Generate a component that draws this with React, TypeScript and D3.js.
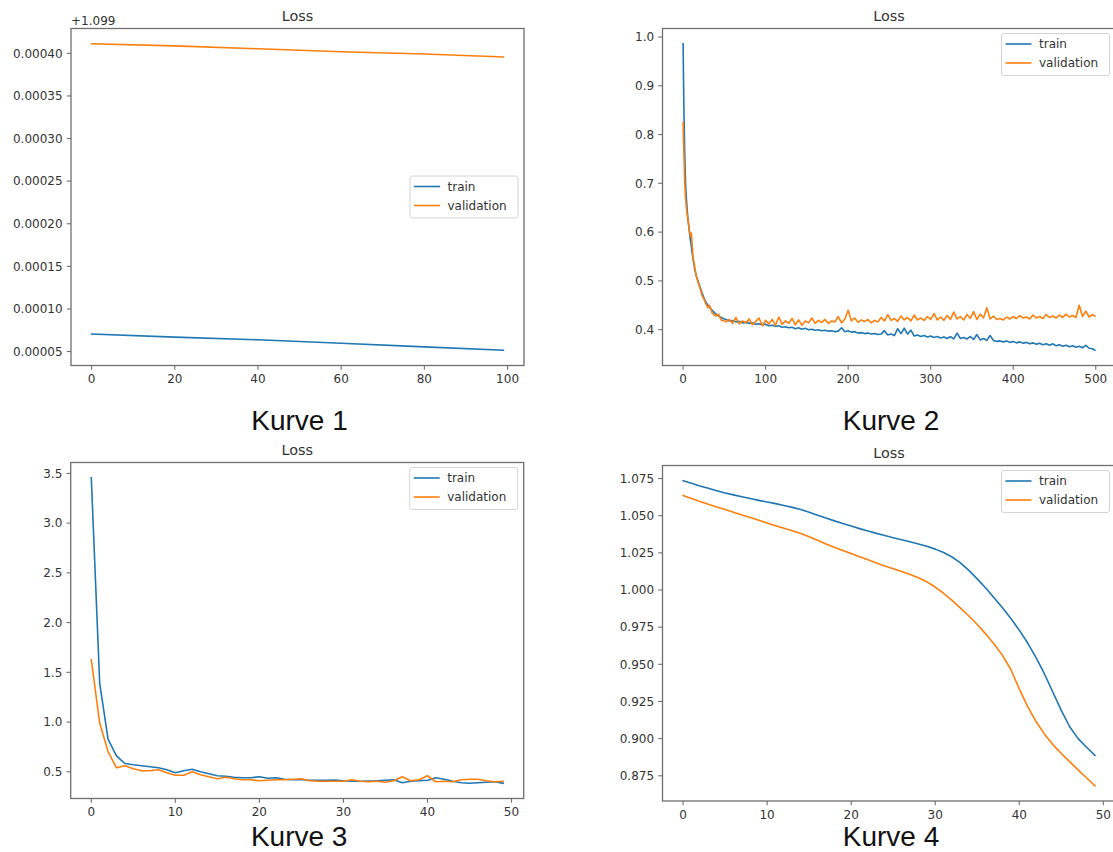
import React from 'react';
import * as d3 from 'd3';

const TRAIN_COLOR = '#1f77b4';
const VAL_COLOR = '#ff7f0e';
const SERIES_NAMES = ['train', 'validation'];
const TITLE = 'Loss';

// ---- Kurve 1 (values are relative to the +1.099 axis offset) ----
const k1Offset = '+1.099';
const k1Epochs = [0, 20, 40, 60, 80, 99];
const k1Train = [0.0000705, 0.0000669, 0.0000638, 0.0000598, 0.0000555, 0.0000516];
const k1Val = [0.0004112, 0.0004088, 0.0004054, 0.0004019, 0.0003992, 0.0003958];
const k1XTicks = [0, 20, 40, 60, 80, 100];
const k1YTicks = [0.00005, 0.0001, 0.00015, 0.0002, 0.00025, 0.0003, 0.00035, 0.0004];

// ---- Kurve 2 (500 epochs) ----
const k2EarlyEpochs = [0, 1, 2, 3, 4, 5, 6, 8, 9, 10, 11, 12, 14, 16, 18, 20, 23, 26, 28, 30, 32, 35, 38, 40, 43, 46, 50];
const k2EarlyTrain = [0.986, 0.85, 0.76, 0.70, 0.67, 0.645, 0.625, 0.595, 0.582, 0.57, 0.557, 0.545, 0.525, 0.51, 0.5, 0.49, 0.475, 0.462, 0.456, 0.45, 0.446, 0.44, 0.435, 0.432, 0.428, 0.425, 0.422];
const k2EarlyVal = [0.825, 0.76, 0.70, 0.67, 0.65, 0.635, 0.625, 0.6, 0.592, 0.598, 0.575, 0.55, 0.53, 0.51, 0.498, 0.488, 0.47, 0.46, 0.452, 0.445, 0.45, 0.435, 0.43, 0.428, 0.432, 0.42, 0.418];
// later epochs, logged every 4th epoch from 52 to 496, then the last epoch 499
const k2LateStart = 52;
const k2LateStep = 4;
const k2LastEpoch = 499;
const k2LateTrain = [
  0.421, 0.418, 0.419, 0.416, 0.417, 0.414, 0.415, 0.413,
  0.414, 0.411, 0.412, 0.410, 0.411, 0.408, 0.409, 0.407,
  0.408, 0.405, 0.406, 0.404, 0.405, 0.402, 0.404, 0.401,
  0.403, 0.400, 0.401, 0.399, 0.400, 0.398, 0.399, 0.397,
  0.398, 0.396, 0.397, 0.404, 0.396, 0.398, 0.395, 0.396,
  0.393, 0.394, 0.392, 0.393, 0.391, 0.392, 0.390, 0.391,
  0.398, 0.389, 0.391, 0.388, 0.402, 0.392, 0.403, 0.391,
  0.399, 0.387, 0.389, 0.386, 0.388, 0.385, 0.387, 0.384,
  0.386, 0.383, 0.385, 0.382, 0.386, 0.381, 0.393, 0.382,
  0.384, 0.381, 0.386, 0.380, 0.390, 0.379, 0.382, 0.378,
  0.388, 0.378, 0.376, 0.377, 0.375, 0.377, 0.374, 0.376,
  0.373, 0.375, 0.372, 0.374, 0.371, 0.373, 0.370, 0.372,
  0.369, 0.371, 0.368, 0.371, 0.367, 0.369, 0.366, 0.368,
  0.365, 0.367, 0.364, 0.366, 0.363, 0.368, 0.362, 0.361,
  0.358,
];
const k2LateVal = [
  0.416, 0.421, 0.413, 0.425, 0.412, 0.418, 0.414, 0.422,
  0.410, 0.417, 0.424, 0.408, 0.419, 0.412, 0.421, 0.409,
  0.426, 0.411, 0.418, 0.413, 0.423, 0.410, 0.420, 0.409,
  0.418, 0.414, 0.424, 0.413, 0.419, 0.415, 0.421, 0.413,
  0.418, 0.416, 0.427, 0.414, 0.422, 0.440, 0.418, 0.424,
  0.415, 0.420, 0.417, 0.421, 0.414, 0.419, 0.416, 0.425,
  0.418, 0.431, 0.419, 0.423, 0.417, 0.428, 0.420, 0.425,
  0.418, 0.430, 0.420, 0.424, 0.419, 0.427, 0.421, 0.433,
  0.420, 0.426, 0.419, 0.429, 0.421, 0.436, 0.422, 0.427,
  0.420, 0.431, 0.423, 0.437, 0.421, 0.432, 0.424, 0.445,
  0.422, 0.428, 0.421, 0.423, 0.420, 0.426, 0.422, 0.427,
  0.423, 0.429, 0.424, 0.426, 0.422, 0.430, 0.424, 0.427,
  0.423, 0.431, 0.425, 0.428, 0.424, 0.430, 0.425, 0.432,
  0.426, 0.429, 0.425, 0.450, 0.427, 0.438, 0.426, 0.431,
  0.428,
];
const k2XTicks = [0, 100, 200, 300, 400, 500];
const k2YTicks = [0.4, 0.5, 0.6, 0.7, 0.8, 0.9, 1.0];

// ---- Kurve 3 (50 epochs) ----
const k3Train = [
  3.456, 1.39, 0.826, 0.66, 0.583, 0.57, 0.56, 0.55, 0.54, 0.52,
  0.49, 0.51, 0.525, 0.5, 0.48, 0.46, 0.455, 0.445, 0.44, 0.44,
  0.45, 0.435, 0.44, 0.425, 0.42, 0.42, 0.415, 0.415, 0.415, 0.418,
  0.41, 0.405, 0.405, 0.408, 0.41, 0.415, 0.42, 0.39, 0.405, 0.41,
  0.415, 0.44, 0.425, 0.405, 0.39, 0.385, 0.39, 0.395, 0.4, 0.385,
];
const k3Val = [
  1.626, 0.99, 0.7, 0.54, 0.56, 0.53, 0.51, 0.51, 0.52, 0.49,
  0.465, 0.465, 0.5, 0.47, 0.45, 0.43, 0.445, 0.43, 0.42, 0.42,
  0.41, 0.415, 0.42, 0.42, 0.425, 0.43, 0.41, 0.405, 0.405, 0.405,
  0.405, 0.42, 0.405, 0.4, 0.405, 0.395, 0.41, 0.45, 0.41, 0.42,
  0.46, 0.4, 0.405, 0.4, 0.42, 0.425, 0.425, 0.41, 0.4, 0.405,
];
const k3XTicks = [0, 10, 20, 30, 40, 50];
const k3YTicks = [0.5, 1.0, 1.5, 2.0, 2.5, 3.0, 3.5];

// ---- Kurve 4 (50 epochs) ----
const k4Train = [
  1.0735, 1.0718, 1.0700, 1.0684, 1.0668, 1.0653, 1.0640, 1.0627, 1.0615, 1.0603,
  1.0592, 1.0581, 1.0569, 1.0556, 1.0541, 1.0523, 1.0503, 1.0484, 1.0465, 1.0447,
  1.0430, 1.0413, 1.0397, 1.0381, 1.0366, 1.0352, 1.0338, 1.0324, 1.0310, 1.0294,
  1.0275, 1.0252, 1.0222, 1.0182, 1.0132, 1.0075, 1.0013, 0.9948, 0.9880, 0.9808,
  0.9730, 0.9643, 0.9545, 0.9435, 0.9312, 0.9190, 0.9080, 0.9000, 0.8942, 0.8888,
];
const k4Val = [
  1.0635, 1.0615, 1.0596, 1.0577, 1.0559, 1.0541, 1.0523, 1.0505, 1.0487, 1.0469,
  1.0451, 1.0433, 1.0416, 1.0399, 1.0380, 1.0358, 1.0334, 1.0310, 1.0288, 1.0266,
  1.0245, 1.0224, 1.0203, 1.0182, 1.0162, 1.0143, 1.0124, 1.0105, 1.0083, 1.0055,
  1.0020, 0.9978, 0.9930, 0.9878, 0.9825, 0.9768, 0.9705, 0.9636, 0.9560, 0.9465,
  0.9335, 0.9215, 0.9115, 0.9030, 0.8960, 0.8900, 0.8845, 0.8790, 0.8737, 0.8683,
];
const k4XTicks = [0, 10, 20, 30, 40, 50];
const k4YTicks = [0.875, 0.9, 0.925, 0.95, 0.975, 1.0, 1.025, 1.05, 1.075];

const CAPTIONS = ['Kurve 1', 'Kurve 2', 'Kurve 3', 'Kurve 4'];

// epoch index helpers
const k2LateEpochs = d3.range(k2LateStart, k2LastEpoch, k2LateStep).concat([k2LastEpoch]);
const k2Epochs = k2EarlyEpochs.concat(k2LateEpochs);
const k2Train = k2EarlyTrain.concat(k2LateTrain);
const k2Val = k2EarlyVal.concat(k2LateVal);
const k34Epochs = d3.range(k3Train.length);

type Series = { name: string; color: string; x: number[]; y: number[] };

const FONT = 'DejaVu Sans, sans-serif';
const TICK_COLOR = '#333';
const SPINE_COLOR = '#6e6e6e';

function paddedExtent(values: number[]): [number, number] {
  const [lo, hi] = d3.extent(values) as [number, number];
  const pad = (hi - lo) * 0.05;
  return [lo - pad, hi + pad];
}

type PanelProps = {
  id: string;
  left: number;
  top: number;
  width: number;
  height: number;
  series: Series[];
  xTicks: number[];
  yTicks: number[];
  yFormat: (v: number) => string;
  legendPos: 'center right' | 'upper right';
  caption: string;
  captionY: number;
  offsetText?: string;
};

function Panel(p: PanelProps) {
  const allX = p.series.flatMap((s) => s.x);
  const allY = p.series.flatMap((s) => s.y);
  const x = d3.scaleLinear().domain(paddedExtent(allX)).range([p.left, p.left + p.width]);
  const y = d3.scaleLinear().domain(paddedExtent(allY)).range([p.top + p.height, p.top]);
  const right = p.left + p.width;
  const bottom = p.top + p.height;
  const cx = p.left + p.width / 2;

  const line = d3
    .line<[number, number]>()
    .x((d) => x(d[0]))
    .y((d) => y(d[1]));

  const legW = 108;
  const legH = 42;
  const legX = right - 6 - legW;
  const legY = p.legendPos === 'upper right' ? p.top + 5 : p.top + p.height / 2 - legH / 2;

  return (
    <g>
      <defs>
        <clipPath id={`clip-${p.id}`}>
          <rect x={p.left} y={p.top} width={p.width} height={p.height} />
        </clipPath>
      </defs>
      <g clipPath={`url(#clip-${p.id})`}>
        {p.series.map((s) => (
          <path
            key={s.name}
            d={line(s.x.map((v, i) => [v, s.y[i]] as [number, number])) || ''}
            fill="none"
            stroke={s.color}
            strokeWidth={1.6}
            strokeLinejoin="round"
            strokeLinecap="square"
          />
        ))}
      </g>
      <rect x={p.left} y={p.top} width={p.width} height={p.height} fill="none" stroke={SPINE_COLOR} strokeWidth={1.3} />
      {p.xTicks.map((t) => (
        <g key={`x${t}`}>
          <line x1={x(t)} x2={x(t)} y1={bottom} y2={bottom + 4.2} stroke={SPINE_COLOR} strokeWidth={1.1} />
          <text x={x(t)} y={bottom + 17.8} textAnchor="middle" fontFamily={FONT} fontSize={12} fill={TICK_COLOR}>
            {t}
          </text>
        </g>
      ))}
      {p.yTicks.map((t) => (
        <g key={`y${t}`}>
          <line x1={p.left - 4.2} x2={p.left} y1={y(t)} y2={y(t)} stroke={SPINE_COLOR} strokeWidth={1.1} />
          <text x={p.left - 8.4} y={y(t) + 4.3} textAnchor="end" fontFamily={FONT} fontSize={12} fill={TICK_COLOR}>
            {p.yFormat(t)}
          </text>
        </g>
      ))}
      {p.offsetText && (
        <text x={p.left} y={p.top - 3.5} fontFamily={FONT} fontSize={12} fill={TICK_COLOR}>
          {p.offsetText}
        </text>
      )}
      <text x={cx} y={p.top - 7.2} textAnchor="middle" fontFamily={FONT} fontSize={14.4} fill={TICK_COLOR}>
        {TITLE}
      </text>
      <g>
        <rect x={legX} y={legY} width={legW} height={legH} rx={2.5} fill="#fff" fillOpacity={0.8} stroke="#d4d4d4" strokeWidth={1} />
        {p.series.map((s, i) => {
          const ry = legY + 10.5 + i * 19;
          return (
            <g key={`leg${s.name}`}>
              <line x1={legX + 4} x2={legX + 30} y1={ry} y2={ry} stroke={s.color} strokeWidth={1.6} />
              <text x={legX + 37.5} y={ry + 4.3} fontFamily={FONT} fontSize={12} fill={TICK_COLOR}>
                {s.name}
              </text>
            </g>
          );
        })}
      </g>
      <text x={cx + 2} y={p.captionY} textAnchor="middle" fontFamily="Liberation Sans, Arial, sans-serif" fontSize={28} fill="#111">
        {p.caption}
      </text>
    </g>
  );
}

function makeSeries(xs: number[], train: number[], val: number[]): Series[] {
  return [
    { name: SERIES_NAMES[0], color: TRAIN_COLOR, x: xs, y: train },
    { name: SERIES_NAMES[1], color: VAL_COLOR, x: xs, y: val },
  ];
}

export default function App() {
  const W = 1113;
  const H = 852;
  const axW = 453;
  return (
    <svg
      width={W}
      height={H}
      viewBox={`0 0 ${W} ${H}`}
      style={{ position: 'absolute', left: 0, top: 0, background: '#fff' }}
    >
      <rect x={0} y={0} width={W} height={H} fill="#fff" />
      <Panel
        id="k1"
        left={71}
        top={28.5}
        width={axW}
        height={337}
        series={makeSeries(k1Epochs, k1Train, k1Val)}
        xTicks={k1XTicks}
        yTicks={k1YTicks}
        yFormat={d3.format('.5f')}
        legendPos="center right"
        caption={CAPTIONS[0]}
        captionY={430}
        offsetText={k1Offset}
      />
      <Panel
        id="k2"
        left={662.5}
        top={28.5}
        width={axW}
        height={337}
        series={makeSeries(k2Epochs, k2Train, k2Val)}
        xTicks={k2XTicks}
        yTicks={k2YTicks}
        yFormat={d3.format('.1f')}
        legendPos="upper right"
        caption={CAPTIONS[1]}
        captionY={430}
      />
      <Panel
        id="k3"
        left={70.7}
        top={462.5}
        width={axW}
        height={336}
        series={makeSeries(k34Epochs, k3Train, k3Val)}
        xTicks={k3XTicks}
        yTicks={k3YTicks}
        yFormat={d3.format('.1f')}
        legendPos="upper right"
        caption={CAPTIONS[2]}
        captionY={846}
      />
      <Panel
        id="k4"
        left={662.5}
        top={465.5}
        width={axW}
        height={335.5}
        series={makeSeries(k34Epochs, k4Train, k4Val)}
        xTicks={k4XTicks}
        yTicks={k4YTicks}
        yFormat={d3.format('.3f')}
        legendPos="upper right"
        caption={CAPTIONS[3]}
        captionY={846}
      />
    </svg>
  );
}
